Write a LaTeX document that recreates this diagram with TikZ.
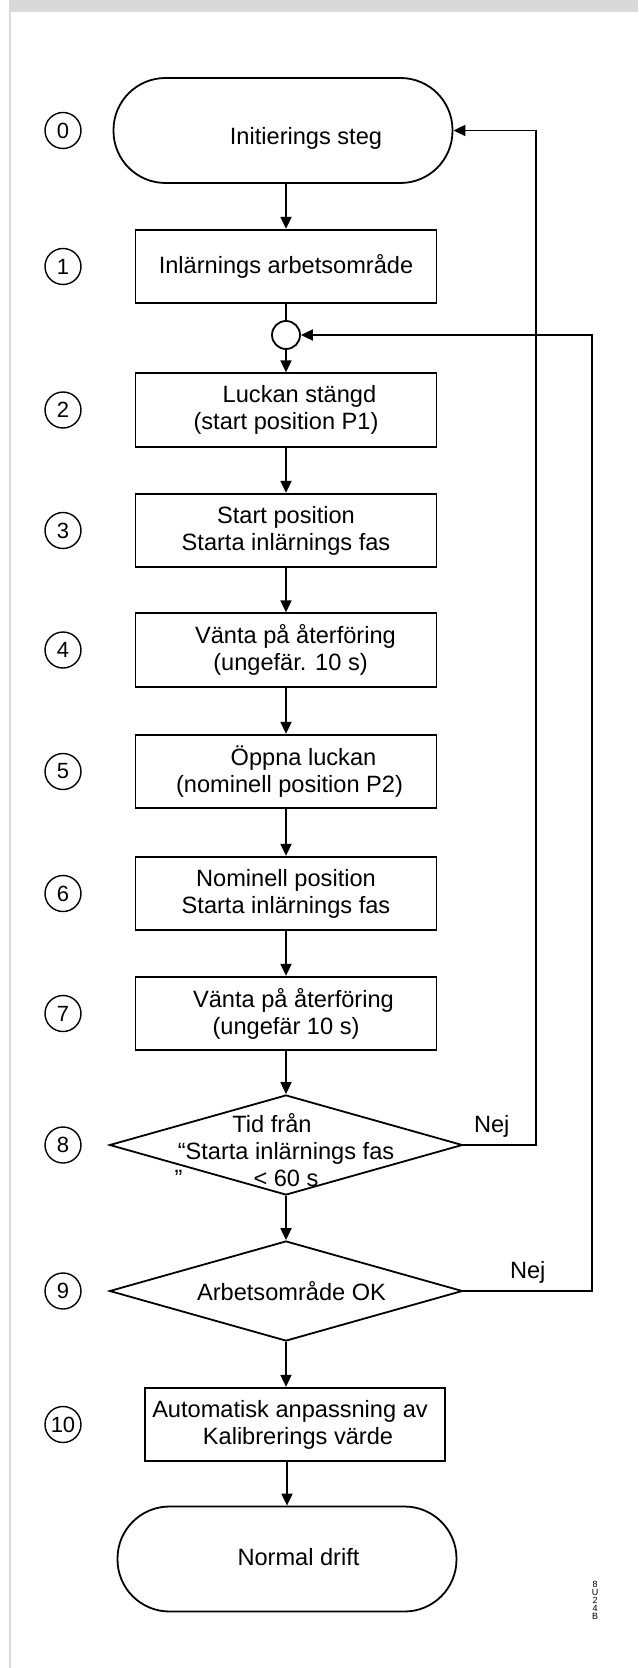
\documentclass[tikz,border=0pt]{standalone}
\usepackage{fontspec}
\setmainfont{Liberation Sans}
\usetikzlibrary{arrows.meta}
\usetikzlibrary{shapes.geometric}
\tikzset{
  every node/.style={
    text=black,
    font=\fontsize{11.8pt}{13.5pt}\selectfont
  },
  stepbox/.style={draw, line width=0.9pt, minimum width=150.5pt, minimum height=36.75pt, inner sep=0pt, align=center},
  endbox/.style={draw, line width=0.9pt, rounded corners=26pt, minimum width=169.5pt, minimum height=52.5pt, inner sep=0pt, text depth=3pt},
  testbox/.style={draw, diamond, line width=0.9pt, minimum width=176.5pt, minimum height=50pt, inner sep=0pt},
  stepno/.style={draw, circle, line width=0.7pt, minimum size=18pt, inner sep=0pt, font=\fontsize{11pt}{12pt}\selectfont},
  flow/.style={line width=0.9pt, -{Triangle[length=6pt,width=5.5pt]}}
}

\begin{document}
\begin{tikzpicture}[x=0.5pt, y=-0.5pt]
    %\draw[gray, very thin] (0,0) grid[step=50] (638,1668);
    \useasboundingbox (0,0) rectangle (638,1668);
    \fill[gray!30] (9,0) rectangle (638,12);
    \draw[gray!30, line width=1pt] (10,12) -- (10,1668);

    \node[endbox, text height=17pt] (t0) at (283,130.5) {\rule{23pt}{0pt}Initierings steg};
    \node[stepbox] (b1) at (286,266.5) {Inlärnings arbetsområde};
    \node[draw, circle, line width=0.9pt, minimum size=14pt, inner sep=0pt] (j) at (286,335) {};
    \node[stepbox] (b2) at (286,410) {\rule{13.5pt}{0pt}Luckan stängd\\(start position P1)};
    \node[stepbox] (b3) at (286,530.5) {Start position\\Starta inlärnings fas};
    \node[stepbox] (b4) at (286,650) {\rule{9.5pt}{0pt}Vänta på återföring\\\rule{4.5pt}{0pt}(ungefär. 10 s)};
    \node[stepbox] (b5) at (286,771.5) {\rule{17.5pt}{0pt}Öppna luckan\\\rule{3.5pt}{0pt}(nominell position P2)};
    \node[stepbox] (b6) at (286,893.5) {Nominell position\\Starta inlärnings fas};
    \node[stepbox] (b7) at (286,1013.5) {\rule{7.5pt}{0pt}Vänta på återföring\\(ungefär 10 s)};
    \node[testbox, label={[align=center, yshift=-2.5pt]center:{Tid från\rule{14pt}{0pt}\\“Starta inlärnings fas\\\llap{”\rule{35.5pt}{0pt}}< 60 s}}] (d8) at (286,1145) {};
    \node[testbox, label={center:{\rule{5.5pt}{0pt}Arbetsområde OK}}] (d9) at (286,1291) {};
    \node[stepbox, minimum width=150pt] (b10) at (295,1424.5) {Automatisk anpassning av\rule{5pt}{0pt}\\\rule{3pt}{0pt}Kalibrerings värde};
    \node[endbox, text height=9pt] (t1) at (287,1559) {\rule{11.5pt}{0pt}Normal drift};

    \node[stepno] (n0) at (63,130.5) {0};
    \node[stepno] (n1) at (63,266.5) {1};
    \node[stepno] (n2) at (63,410) {2};
    \node[stepno] (n3) at (63,530.5) {3};
    \node[stepno] (n4) at (63,650) {4};
    \node[stepno] (n5) at (63,771.5) {5};
    \node[stepno] (n6) at (63,893.5) {6};
    \node[stepno] (n7) at (63,1013.5) {7};
    \node[stepno] (n8) at (63,1145) {8};
    \node[stepno] (n9) at (63,1291) {9};
    \node[stepno] (n10) at (63,1424.5) {10};

    \draw[flow] (t0.south -| b1.north) -- (b1.north);
    \draw[line width=0.9pt] (b1) -- (j);
    \draw[flow] (j) -- (b2);
    \draw[flow] (b2) -- (b3);
    \draw[flow] (b3) -- (b4);
    \draw[flow] (b4) -- (b5);
    \draw[flow] (b5) -- (b6);
    \draw[flow] (b6) -- (b7);
    \draw[flow] (b7) -- (d8);
    \draw[flow] (d8) -- (d9);
    \draw[flow] (d9.south) -- (d9.south |- b10.north);
    \draw[flow] (b10.south -| t1.north) -- (t1.north);

    \coordinate (r1) at (536,0);
    \coordinate (r2) at (592,0);
    \draw[flow] (d8.east) -- node[above, xshift=-4pt] {Nej} (d8.east -| r1) -- (t0.east -| r1) -- (t0.east);
    \draw[flow] (d9.east) -- node[above] {Nej} (d9.east -| r2) -- (j.east -| r2) -- (j.east);

    \node[align=center, inner sep=0pt, font=\fontsize{4.5pt}{4pt}\selectfont] (code) at (595,1600) {8\\U\\2\\4\\B};
\end{tikzpicture}
\end{document}
